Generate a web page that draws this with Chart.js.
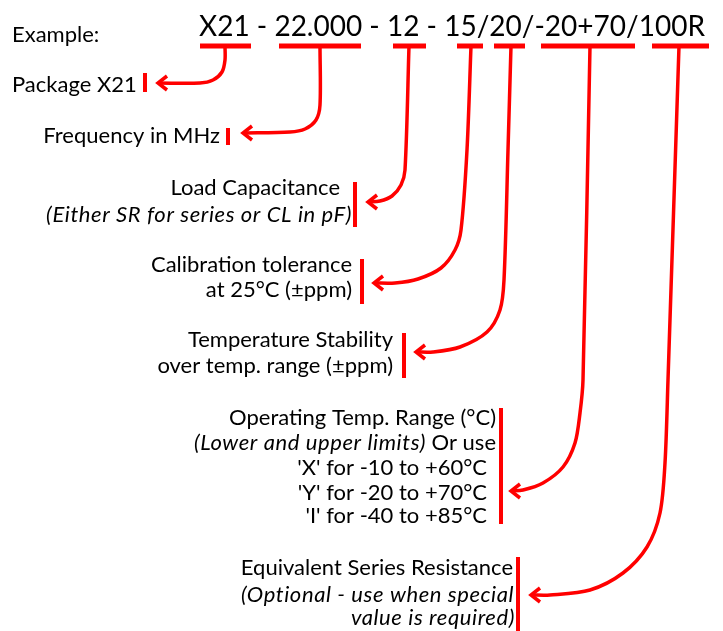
<!DOCTYPE html>
<html>
<head>
<meta charset="utf-8">
<script src="https://cdn.jsdelivr.net/npm/chart.js@4/dist/chart.umd.min.js"></script>
<style>
  html, body { margin: 0; padding: 0; background: #fff; }
  #wrap { width: 723px; height: 631px; position: relative; }
</style>
</head>
<body>
<div id="wrap"><canvas id="diagram"></canvas></div>
<script>
// text of every label, as runs of [text, italic]
const labelText = [
  [['Example:', 0]],
  [['X21 - 22.000 - 12 - 15/20/-20+70/100R', 0]],
  [['Package X21', 0]],
  [['Frequency in MHz', 0]],
  [['Load Capacitance', 0]],
  [['(Either SR for series or CL in pF)', 1]],
  [['Calibration tolerance', 0]],
  [['at 25°C (±ppm)', 0]],
  [['Temperature Stability', 0]],
  [['over temp. range (±ppm)', 0]],
  [['Operating Temp. Range (°C)', 0]],
  [['(Lower and upper limits)', 1], [' Or use', 0]],
  [["'X' for -10 to +60°C", 0]],
  [["'Y' for -20 to +70°C", 0]],
  [["'I' for -40 to +85°C", 0]],
  [['Equivalent Series Resistance', 0]],
  [['(Optional - use when special', 1]],
  [['value is required)', 1]]
];
// anchor of each label in diagram units: x, baseline y
const labelX = [12, 199, 12, 220, 340, 352, 352, 352, 393, 393, 496, 496, 487, 487, 487, 513, 241, 515];
const labelY = [42, 36, 92, 143, 195, 222, 272, 297, 347, 373, 425, 450, 475, 500, 523, 575, 602, 625];

// underlines below each code part: [x start, x end] at the same height
const underlineY = 46;
const underlineSpans = [[200, 251], [279, 361], [393, 426], [457, 483], [494, 525], [541, 635], [652, 709]];

// vertical marker bars next to the labels: x, y top, y bottom
const markerX = [145, 228, 355, 362, 404, 501, 518];
const markerTop = [73, 128, 182, 259, 333, 408, 557];
const markerBottom = [92, 145, 227, 304, 378, 524, 631];

// connector paths from each underline to its label
const pathPackage = [[225, 46], [225, 60], [222, 72], [213, 80], [200, 83], [158, 83]];
const pathFrequency = [[320, 46], [320, 105], [316, 120], [305, 129], [290, 132], [243, 133]];
const pathLoad = [[409, 46], [405, 170], [401, 185], [392, 196], [380, 201], [368, 202]];
const pathCalibration = [[471, 46], [467, 150], [461, 230], [455, 250], [441, 268], [418, 279], [395, 283], [374, 283]];
const pathStability = [[511, 46], [508, 150], [504, 280], [500, 310], [487, 332], [460, 347], [433, 352], [416, 352]];
const pathOperating = [[590, 46], [583, 380], [580, 413], [575, 443], [563, 467], [543, 483], [523, 490], [511, 491]];
const pathResistance = [[679, 46], [668, 380], [665, 463], [660, 513], [647, 547], [623, 573], [590, 590], [550, 595], [531, 595]];
const connectorPaths = [pathPackage, pathFrequency, pathLoad, pathCalibration, pathStability, pathOperating, pathResistance];

const RED = '#ff0000';
const FONT = 'Lato, "DejaVu Sans", sans-serif';

function pts(list) {
  return list.map(p => ({ x: p[0], y: p[1] }));
}

const datasets = [];

underlineSpans.forEach(s => {
  datasets.push({
    data: pts([[s[0], underlineY], [s[1], underlineY]]),
    borderColor: RED, borderWidth: 5, borderCapStyle: 'butt', tension: 0
  });
});

markerX.forEach((x, i) => {
  datasets.push({
    data: pts([[x, markerTop[i]], [x, markerBottom[i]]]),
    borderColor: RED, borderWidth: 4, borderCapStyle: 'butt', tension: 0
  });
});

connectorPaths.forEach(path => {
  datasets.push({
    data: pts(path),
    borderColor: RED, borderWidth: 3.5, tension: 0.3
  });
  // open arrowhead at the end of the path
  const tip = path[path.length - 1];
  datasets.push({
    data: pts([[tip[0] + 9, tip[1] - 7], [tip[0], tip[1]], [tip[0] + 9, tip[1] + 7]]),
    borderColor: RED, borderWidth: 3.5, borderJoinStyle: 'miter', tension: 0
  });
});

datasets.forEach(d => {
  d.showLine = true;
  d.pointRadius = 0;
  d.clip = false;
});

const labelPlugin = {
  id: 'labels',
  beforeDatasetsDraw(chart) {
    const ctx = chart.ctx;
    const sx = chart.scales.x, sy = chart.scales.y;
    ctx.save();
    ctx.fillStyle = '#000';
    ctx.textBaseline = 'alphabetic';
    ctx.textAlign = 'left';
    labelText.forEach((runs, i) => {
      const size = i === 1 ? 28 : 22;
      const setFont = r => {
        ctx.font = (r[1] ? 'italic ' : '') + size + 'px ' + FONT;
        ctx.letterSpacing = r[1] ? '0.6px' : '0px';
      };
      let total = 0;
      runs.forEach(r => { setFont(r); total += ctx.measureText(r[0]).width; });
      const ax = sx.getPixelForValue(labelX[i]);
      const ay = sy.getPixelForValue(labelY[i]);
      const leftAligned = i <= 2 || i === 16;
      let x = leftAligned ? ax : ax - total;
      ctx.save();
      if (i === 16) {
        // this line is cut off by the marker bar
        ctx.beginPath();
        ctx.rect(0, ay - 30, sx.getPixelForValue(markerX[6]) - 2, 40);
        ctx.clip();
      }
      runs.forEach(r => {
        setFont(r);
        ctx.fillText(r[0], x, ay);
        x += ctx.measureText(r[0]).width;
      });
      ctx.restore();
    });
    ctx.restore();
  }
};

new Chart(document.getElementById('diagram'), {
  type: 'scatter',
  data: { datasets },
  options: {
    responsive: true,
    maintainAspectRatio: false,
    animation: false,
    layout: { padding: 0 },
    plugins: { legend: { display: false }, tooltip: { enabled: false } },
    scales: {
      x: { type: 'linear', min: 0, max: 723, display: false },
      y: { type: 'linear', min: 0, max: 631, reverse: true, display: false }
    }
  },
  plugins: [labelPlugin]
});
</script>
</body>
</html>
